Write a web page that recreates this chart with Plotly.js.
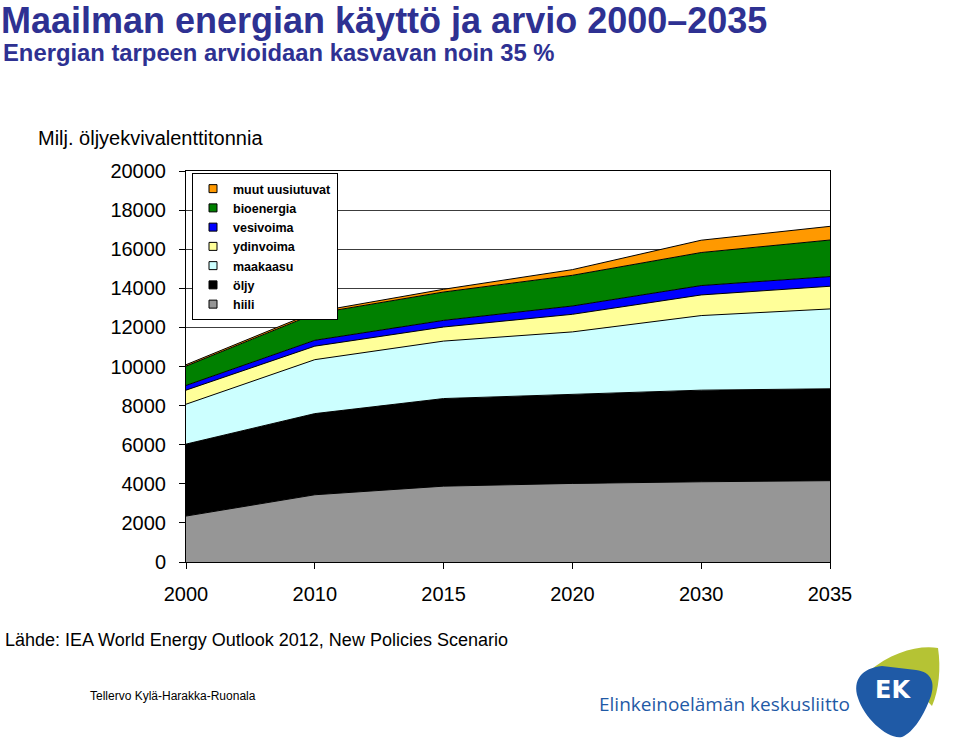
<!DOCTYPE html>
<html>
<head>
<meta charset="utf-8">
<script src="https://cdn.plot.ly/plotly-3.0.1.min.js"></script>
<style>html,body{margin:0;padding:0;background:#fff;}#chart{width:960px;height:741px;}</style>
</head>
<body>
<div id="chart"></div>
<script>
// Data (Milj. öljyekvivalenttitonnia)
const years = ["2000", "2010", "2015", "2020", "2030", "2035"];
const hiili = [2350, 3440, 3880, 4020, 4105, 4160];
const oljy = [3680, 4150, 4480, 4550, 4685, 4700];
const maakaasu = [2040, 2760, 2940, 3200, 3815, 4085];
const ydinvoima = [720, 690, 720, 900, 1055, 1160];
const vesivoima = [240, 300, 340, 425, 480, 495];
const bioenergia = [990, 1360, 1450, 1570, 1690, 1870];
const muut = [70, 90, 140, 290, 630, 700];

const seriesNames = ["hiili", "öljy", "maakaasu", "ydinvoima", "vesivoima", "bioenergia", "muut uusiutuvat"];
const seriesValues = [hiili, oljy, maakaasu, ydinvoima, vesivoima, bioenergia, muut];
const seriesColors = ["#969696", "#000000", "#CCFFFF", "#FFFF99", "#0000FF", "#008000", "#FF9900"];

const SANS = "Liberation Sans, Arial, Helvetica, sans-serif";

const traces = [];
seriesNames.forEach((n, i) => {
  traces.push({
    type: "scatter", mode: "lines", x: years, y: seriesValues[i],
    stackgroup: "one", fillcolor: seriesColors[i],
    line: {color: "#000000", width: 1}, name: n, showlegend: false, hoverinfo: "x+y+name"
  });
});
// legend entries (top series first)
for (let i = seriesNames.length - 1; i >= 0; i--) {
  traces.push({
    type: "scatter", mode: "markers", x: [null], y: [null], name: seriesNames[i],
    marker: {symbol: "square", size: 8, color: seriesColors[i], line: {color: "#000000", width: 1}},
    showlegend: true, hoverinfo: "skip"
  });
}

// plot-area geometry in pixels (for positioning decorations only)
const L = 186, R = 830, T = 171, B = 562;
function px(X) { return (X - L) / (R - L); }
function py(Y) { return (B - Y) / (B - T); }
function pathPx(cmds) {
  return cmds.map(c => {
    const l = c[0]; const nums = [];
    for (let k = 1; k < c.length; k += 2) nums.push(px(c[k]).toFixed(5) + "," + py(c[k + 1]).toFixed(5));
    return l + " " + nums.join(" ");
  }).join(" ") + " Z";
}

const greenPath = pathPx([["M", 868, 672], ["C", 892, 652, 918, 645, 938, 648], ["C", 941, 668, 939, 690, 932, 706], ["L", 915, 688]]);
const bluePath = pathPx([["M", 858, 698], ["C", 852, 680, 862, 668, 882, 666], ["L", 916, 670], ["C", 932, 672, 935, 683, 931, 696], ["C", 924, 715, 914, 732, 902, 737], ["C", 888, 740, 864, 718, 858, 698]]);

const layout = {
  width: 960, height: 741,
  margin: {l: L, r: 960 - R, t: T, b: 741 - B, pad: 0},
  paper_bgcolor: "#ffffff", plot_bgcolor: "#ffffff",
  showlegend: true,
  title: {
    text: "<b>Maailman energian käyttö ja arvio 2000–2035</b>",
    font: {family: SANS, size: 36, color: "#2E3192"},
    xref: "container", yref: "container", x: 0.001, xanchor: "left", y: 0.9895, yanchor: "top", pad: {t: 0, l: 0}
  },
  xaxis: {
    type: "category", range: [0, 5], showgrid: false, zeroline: false,
    showline: true, linecolor: "#000000", linewidth: 1, mirror: true,
    ticks: "outside", ticklen: 6, tickcolor: "#000000", tickwidth: 1,
    tickfont: {family: SANS, size: 20, color: "#000000"}, ticklabelstandoff: 8, fixedrange: true
  },
  yaxis: {
    range: [0, 20000], dtick: 2000, tick0: 0, showgrid: true, gridcolor: "#3c3c3c", gridwidth: 1,
    zeroline: false, showline: true, linecolor: "#000000", linewidth: 1, mirror: true,
    ticks: "outside", ticklen: 6, tickcolor: "#000000", tickwidth: 1,
    exponentformat: "none", separatethousands: false, tickformat: "d",
    tickfont: {family: SANS, size: 20, color: "#000000"}, ticklabelstandoff: 9, fixedrange: true
  },
  legend: {
    x: px(192), y: py(173), xanchor: "left", yanchor: "top", traceorder: "normal",
    bgcolor: "#ffffff", bordercolor: "#000000", borderwidth: 1,
    font: {family: SANS, size: 12.5, color: "#000000", weight: "bold"},
    itemwidth: 30, tracegroupgap: 0
  },
  annotations: [
    {text: "<b>Energian tarpeen arvioidaan kasvavan noin 35 %</b>", xref: "paper", yref: "paper",
     x: px(1), y: py(53), xanchor: "left", yanchor: "middle", showarrow: false,
     font: {family: SANS, size: 23.8, color: "#2E3192"}},
    {text: "Milj. öljyekvivalenttitonnia", xref: "paper", yref: "paper",
     x: px(36), y: py(138), xanchor: "left", yanchor: "middle", showarrow: false,
     font: {family: SANS, size: 20, color: "#000000"}},
    {text: "Lähde: IEA World Energy Outlook 2012, New Policies Scenario", xref: "paper", yref: "paper",
     x: px(3), y: py(640), xanchor: "left", yanchor: "middle", showarrow: false,
     font: {family: SANS, size: 18, color: "#000000"}},
    {text: "Tellervo Kylä-Harakka-Ruonala", xref: "paper", yref: "paper",
     x: px(88), y: py(696), xanchor: "left", yanchor: "middle", showarrow: false,
     font: {family: SANS, size: 12, color: "#000000"}},
    {text: "Elinkeinoelämän keskusliitto", xref: "paper", yref: "paper",
     x: px(597), y: py(704), xanchor: "left", yanchor: "middle", showarrow: false,
     font: {family: "Open Sans, DejaVu Sans, sans-serif", size: 19, color: "#1F5AA6"}},
    {text: "<b>EK</b>", xref: "paper", yref: "paper",
     x: px(893), y: py(690), xanchor: "center", yanchor: "middle", showarrow: false,
     font: {family: "DejaVu Sans, sans-serif", size: 24, color: "#ffffff"}}
  ],
  shapes: [
    {type: "path", xref: "paper", yref: "paper", path: greenPath, fillcolor: "#B5C334", line: {width: 0}, layer: "above"},
    {type: "path", xref: "paper", yref: "paper", path: bluePath, fillcolor: "#1F5AA6", line: {width: 0}, layer: "above"}
  ]
};

Plotly.newPlot("chart", traces, layout, {staticPlot: true, displayModeBar: false});
</script>
</body>
</html>
